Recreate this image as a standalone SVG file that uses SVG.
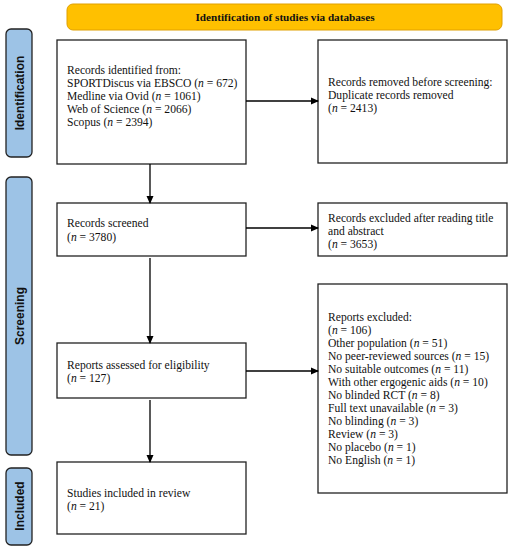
<svg xmlns="http://www.w3.org/2000/svg" width="511" height="550" viewBox="0 0 511 550">
<defs>
<marker id="arr" markerWidth="8" markerHeight="8" refX="7" refY="4" orient="auto" markerUnits="userSpaceOnUse">
<path d="M0,0.5 L8,4 L0,7.5 Z" fill="#000"/>
</marker>
<style>
.box{fill:#fff;stroke:#222;stroke-width:1.3}
.phase{fill:#9DC3E6;stroke:#222;stroke-width:1.3}
.t{font-family:"Liberation Serif","Times New Roman",serif;font-size:11.6px;fill:#111}
.pt{font-family:"Liberation Sans",Arial,sans-serif;font-size:12px;font-weight:bold;fill:#111}
.con{stroke:#000;stroke-width:1.3;fill:none;marker-end:url(#arr)}
</style>
</defs>
<rect width="511" height="550" fill="#fff"/>
<g id="banner">
<rect x="67" y="4" width="435" height="26" rx="6" fill="#FFC000" stroke="#E0A000" stroke-width="1"/>
<text x="285" y="21" text-anchor="middle" class="t" font-weight="bold" style="font-size:11.2px">Identification of studies via databases</text>
</g>
<g id="phase-identification">
<rect class="phase" x="6" y="29" width="26" height="128" rx="5"/>
<text class="pt" transform="translate(23.5,93) rotate(-90)" text-anchor="middle">Identification</text>
</g>
<g id="phase-screening">
<rect class="phase" x="6" y="177" width="26" height="278" rx="5"/>
<text class="pt" transform="translate(23.5,316) rotate(-90)" text-anchor="middle">Screening</text>
</g>
<g id="phase-included">
<rect class="phase" x="6" y="468" width="26" height="77" rx="5"/>
<text class="pt" transform="translate(23.5,506) rotate(-90)" text-anchor="middle">Included</text>
</g>
<g id="records-identified">
<rect class="box" x="57" y="40" width="189" height="124"/>
<text class="t" x="67" y="74">Records identified from:</text>
<text class="t" x="67" y="87">SPORTDiscus via EBSCO (<tspan font-style="italic">n</tspan> = 672)</text>
<text class="t" x="67" y="100">Medline via Ovid (<tspan font-style="italic">n</tspan> = 1061)</text>
<text class="t" x="67" y="113">Web of Science (<tspan font-style="italic">n</tspan> = 2066)</text>
<text class="t" x="67" y="126">Scopus (<tspan font-style="italic">n</tspan> = 2394)</text>
</g>
<g id="records-removed">
<rect class="box" x="318" y="40" width="189" height="123"/>
<text class="t" x="328" y="86">Records removed before screening:</text>
<text class="t" x="328" y="99">Duplicate records removed</text>
<text class="t" x="328" y="112">(<tspan font-style="italic">n</tspan> = 2413)</text>
</g>
<g id="records-screened">
<rect class="box" x="57" y="203" width="189" height="53"/>
<text class="t" x="67" y="227">Records screened</text>
<text class="t" x="67" y="241">(<tspan font-style="italic">n</tspan> = 3780)</text>
</g>
<g id="records-excluded">
<rect class="box" x="318" y="203" width="189" height="53"/>
<text class="t" x="328" y="222">Records excluded after reading title</text>
<text class="t" x="328" y="235">and abstract</text>
<text class="t" x="328" y="248">(<tspan font-style="italic">n</tspan> = 3653)</text>
</g>
<g id="reports-assessed">
<rect class="box" x="57" y="343" width="189" height="55"/>
<text class="t" x="67" y="369">Reports assessed for eligibility</text>
<text class="t" x="67" y="382">(<tspan font-style="italic">n</tspan> = 127)</text>
</g>
<g id="reports-excluded">
<rect class="box" x="318" y="284" width="189" height="209"/>
<text class="t" x="328" y="321">Reports excluded:</text>
<text class="t" x="328" y="334">(<tspan font-style="italic">n</tspan> = 106)</text>
<text class="t" x="328" y="347">Other population (<tspan font-style="italic">n</tspan> = 51)</text>
<text class="t" x="328" y="360">No peer-reviewed sources (<tspan font-style="italic">n</tspan> = 15)</text>
<text class="t" x="328" y="373">No suitable outcomes (<tspan font-style="italic">n</tspan> = 11)</text>
<text class="t" x="328" y="386">With other ergogenic aids (<tspan font-style="italic">n</tspan> = 10)</text>
<text class="t" x="328" y="399">No blinded RCT (<tspan font-style="italic">n</tspan> = 8)</text>
<text class="t" x="328" y="412">Full text unavailable (<tspan font-style="italic">n</tspan> = 3)</text>
<text class="t" x="328" y="425">No blinding (<tspan font-style="italic">n</tspan> = 3)</text>
<text class="t" x="328" y="438">Review (<tspan font-style="italic">n</tspan> = 3)</text>
<text class="t" x="328" y="451">No placebo (<tspan font-style="italic">n</tspan> = 1)</text>
<text class="t" x="328" y="464">No English (<tspan font-style="italic">n</tspan> = 1)</text>
</g>
<g id="studies-included">
<rect class="box" x="57" y="462" width="189" height="72"/>
<text class="t" x="67" y="497">Studies included in review</text>
<text class="t" x="67" y="510">(<tspan font-style="italic">n</tspan> = 21)</text>
</g>
<g id="connectors">
<line class="con" x1="246" y1="101" x2="318" y2="101"/>
<line class="con" x1="150" y1="164" x2="150" y2="203"/>
<line class="con" x1="246" y1="228" x2="318" y2="228"/>
<line class="con" x1="150" y1="258" x2="150" y2="343"/>
<line class="con" x1="246" y1="371" x2="318" y2="371"/>
<line class="con" x1="150" y1="400" x2="150" y2="462"/>
</g>
</svg>
